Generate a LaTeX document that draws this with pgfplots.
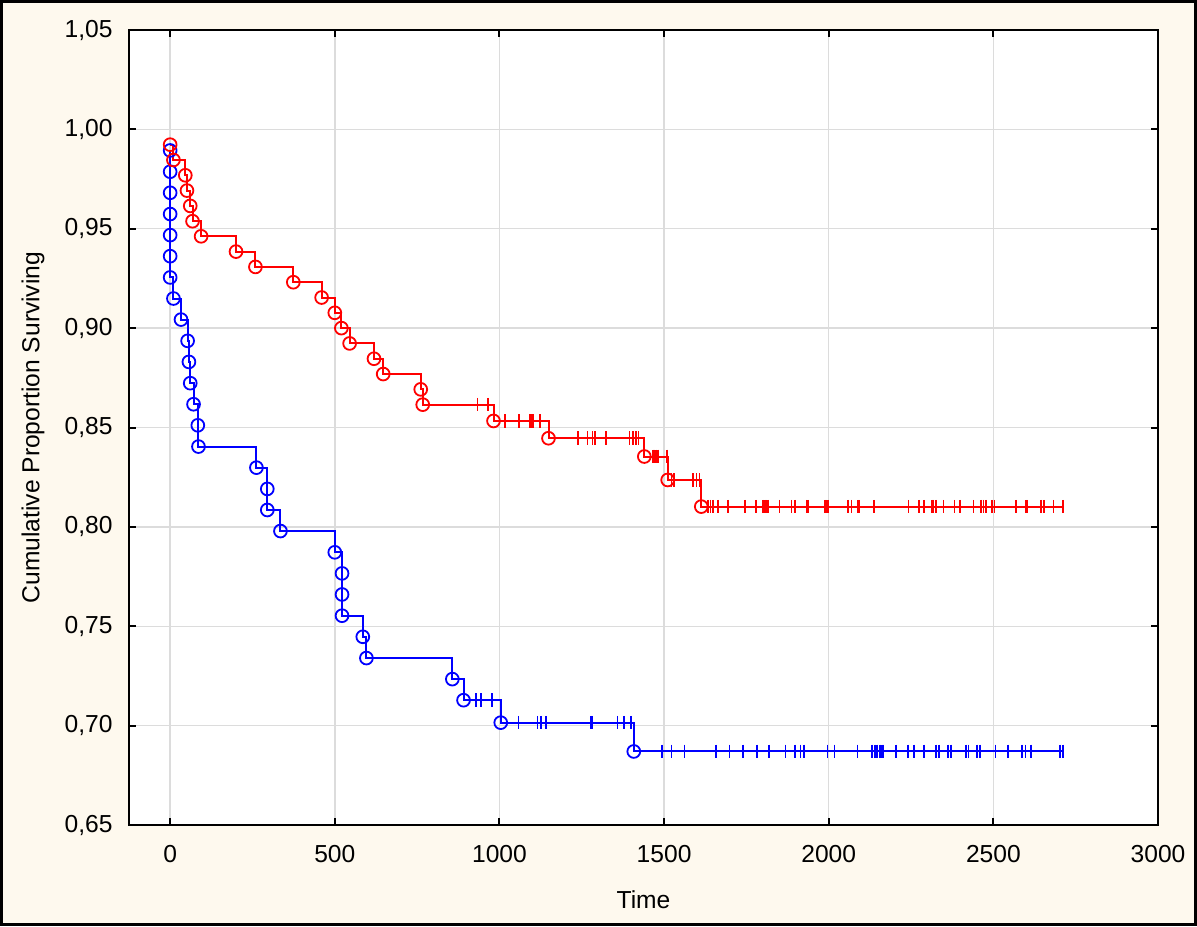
\documentclass[border=0pt]{standalone}
\usepackage{fontspec}
\setmainfont{Liberation Sans}
\usepackage{pgfplots}
\usepackage{pgfplotstable}
\pgfplotsset{compat=1.18}
\definecolor{cream}{HTML}{FEF9EE}
\definecolor{gridgray}{HTML}{DCDCDC}

\pgfplotstableread{
t S
0 0.9923
10 0.9846
46 0.9769
51 0.9692
61 0.9615
68 0.9538
94 0.9462
200 0.9385
259 0.9308
374 0.9231
460 0.9154
500 0.9077
520 0.9000
545 0.8923
619 0.8846
647 0.8769
761 0.8692
767 0.8615
982 0.8533
1149 0.8446
1440 0.8354
1511 0.8236
1613 0.8102
}\redevents

\pgfplotstableread{
t S
0 0.9894
0 0.9787
0 0.9681
0 0.9574
0 0.9468
0 0.9362
0 0.9255
10 0.9149
33 0.9043
53 0.8936
57 0.8830
61 0.8723
71 0.8617
84 0.8511
86 0.8404
262 0.8298
295 0.8191
295 0.8085
335 0.7979
500 0.7872
522 0.7766
522 0.7660
522 0.7553
585 0.7447
596 0.7340
857 0.7234
891 0.7128
1004 0.7015
1408 0.6870
}\blueevents

\newcommand{\lblfont}{\fontsize{12.3}{14}\selectfont}

\begin{document}
\begin{tikzpicture}
\useasboundingbox (-64.5pt,-50.5pt) rectangle (534pt,412.5pt);
\fill[cream] (-64.5pt,-50.5pt) rectangle (534pt,412.5pt);
\begin{axis}[
  at={(0,0)}, anchor=south west, scale only axis,
  width=514.5pt, height=397.5pt,
  xmin=-125, xmax=3000, ymin=0.65, ymax=1.05,
  xtick={0,500,1000,1500,2000,2500,3000},
  ytick={0.65,0.7,0.75,0.8,0.85,0.9,0.95,1,1.05},
  tick align=inside, major tick length=3.5pt,
  every tick/.style={black, line width=1pt},
  axis line style={black, line width=1pt},
  grid=major, major grid style={gridgray, line width=0.7pt},
  axis background/.style={fill=white},
  /pgf/number format/assume math mode=true,
  x tick label style={/pgf/number format/1000 sep={}, font=\lblfont, anchor=north, inner sep=0pt, yshift=-10pt},
  y tick label style={/pgf/number format/use comma, /pgf/number format/fixed, /pgf/number format/fixed zerofill, /pgf/number format/precision=2, font=\lblfont, anchor=east, inner sep=0pt, xshift=-8pt},
  every axis x label/.style={at={(axis description cs:0.5,0)}, anchor=north, inner sep=0pt, yshift=-32.5pt, font=\lblfont},
  every axis y label/.style={at={(axis description cs:0,0.5)}, xshift=-48pt, rotate=90, anchor=center, inner sep=0pt, font=\lblfont},
  xlabel={Time},
  ylabel={Cumulative Proportion Surviving},
]
% Blue group
\addplot[blue, line width=1pt, const plot, mark=none] table[x=t,y=S] {\blueevents} -- (axis cs:2711,0.6870);
\addplot[blue, only marks, mark=o, mark size=3.2pt, mark options={line width=0.9pt}] table[x=t,y=S] {\blueevents};
\addplot[blue, only marks, mark=|, mark size=3.4pt, mark options={line width=0.8pt}] coordinates {
(928,0.7128)(943,0.7128)(946,0.7128)(977,0.7128)
(1058,0.7015)(1116,0.7015)(1126,0.7015)(1141,0.7015)(1278,0.7015)(1283,0.7015)(1359,0.7015)(1379,0.7015)(1400,0.7015)
(1494,0.687)(1522,0.687)(1562,0.687)(1658,0.687)(1699,0.687)(1740,0.687)(1783,0.687)(1818,0.687)(1869,0.687)(1897,0.687)
(1914,0.687)(1924,0.687)(1996,0.687)(2017,0.687)(2087,0.687)(2132,0.687)(2141,0.687)(2147,0.687)(2155,0.687)(2161,0.687)
(2166,0.687)(2204,0.687)(2240,0.687)(2259,0.687)(2289,0.687)(2326,0.687)(2335,0.687)(2363,0.687)(2371,0.687)(2417,0.687)
(2424,0.687)(2451,0.687)(2460,0.687)(2507,0.687)(2544,0.687)(2587,0.687)(2597,0.687)(2614,0.687)(2703,0.687)(2711,0.687)
};
% Red group
\addplot[red, line width=1pt, const plot, mark=none] table[x=t,y=S] {\redevents} -- (axis cs:2711,0.8102);
\addplot[red, only marks, mark=o, mark size=3.2pt, mark options={line width=0.9pt}] table[x=t,y=S] {\redevents};
\addplot[red, only marks, mark=|, mark size=3.4pt, mark options={line width=0.8pt}] coordinates {
(933,0.8615)(966,0.8615)
(1016,0.8533)(1060,0.8533)(1093,0.8533)(1099,0.8533)(1104,0.8533)(1124,0.8533)
(1238,0.8446)(1268,0.8446)(1283,0.8446)(1291,0.8446)(1324,0.8446)(1395,0.8446)(1405,0.8446)(1415,0.8446)(1422,0.8446)
(1466,0.8354)(1471,0.8354)(1476,0.8354)(1481,0.8354)(1508,0.8354)
(1522,0.8236)(1530,0.8236)(1588,0.8236)(1598,0.8236)(1608,0.8236)
(1633,0.8102)(1641,0.8102)(1648,0.8102)(1664,0.8102)(1694,0.8102)(1745,0.8102)(1780,0.8102)(1801,0.8102)(1806,0.8102)
(1811,0.8102)(1816,0.8102)(1851,0.8102)(1887,0.8102)(1897,0.8102)(1932,0.8102)(1937,0.8102)(1988,0.8102)(1993,0.8102)
(1998,0.8102)(2059,0.8102)(2069,0.8102)(2088,0.8102)(2092,0.8102)(2138,0.8102)(2242,0.8102)(2274,0.8102)(2290,0.8102)
(2313,0.8102)(2318,0.8102)(2325,0.8102)(2348,0.8102)(2382,0.8102)(2399,0.8102)(2440,0.8102)(2463,0.8102)(2470,0.8102)
(2477,0.8102)(2495,0.8102)(2503,0.8102)(2569,0.8102)(2599,0.8102)(2602,0.8102)(2644,0.8102)(2654,0.8102)(2683,0.8102)
(2711,0.8102)
};
\end{axis}
\draw[black, line width=1.5pt] (-63.75pt,-49.75pt) rectangle (533.25pt,411.75pt);
\end{tikzpicture}
\end{document}
